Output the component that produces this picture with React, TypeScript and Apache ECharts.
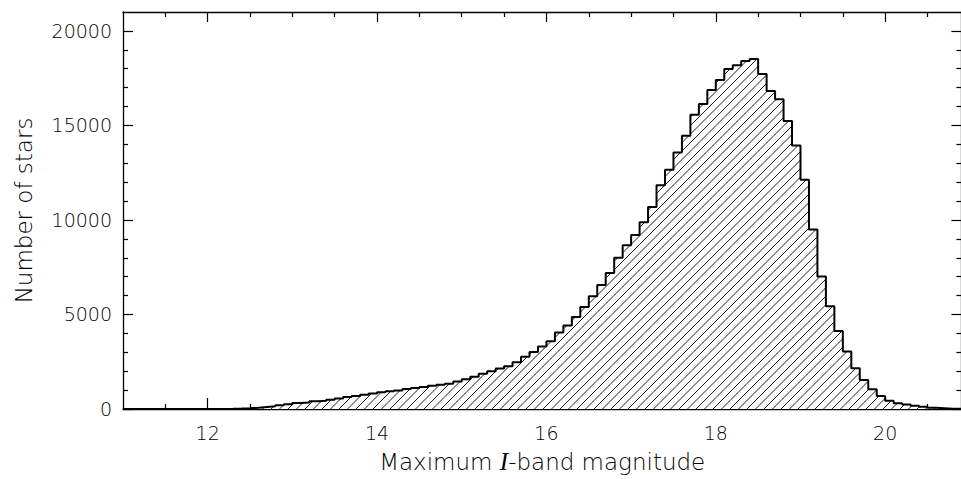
import React, { useEffect, useRef } from "react";
import * as echarts from "echarts";

// Histogram of maximum I-band magnitude, bins 0.1 mag wide starting at 11.0
const binStart = 11.0;
const binWidth = 0.1;
const counts = [
  // 11.0 - 11.9
  0, 0, 0, 0, 0, 0, 0, 0, 1, 1,
  // 12.0 - 12.9
  3, 6, 12, 22, 40, 70, 105, 140, 195, 250,
  // 13.0 - 13.9
  315, 350, 405, 440, 490, 560, 630, 690, 750, 820,
  // 14.0 - 14.9
  880, 935, 985, 1055, 1110, 1160, 1230, 1280, 1340, 1460,
  // 15.0 - 15.9
  1580, 1700, 1860, 2000, 2140, 2260, 2470, 2760, 3010, 3300,
  // 16.0 - 16.9
  3580, 4040, 4420, 4860, 5390, 5960, 6560, 7190, 8000, 8660,
  // 17.0 - 17.9
  9200, 9880, 10690, 11830, 12660, 13570, 14450, 15560, 16140, 16880,
  // 18.0 - 18.9
  17400, 17990, 18180, 18410, 18510, 17720, 16820, 16390, 15240, 13940,
  // 19.0 - 19.9
  12130, 9490, 7015, 5430, 4130, 3040, 2160, 1530, 1040, 690,
  // 20.0 - 20.8
  440, 310, 240, 170, 115, 60, 40, 15, 8,
];

const xMajorTicks = [12, 14, 16, 18, 20];
const xMinorTicks = [11.5, 12.5, 13, 13.5, 14.5, 15, 15.5, 16.5, 17, 17.5, 18.5, 19, 19.5, 20.5];
const yMajorTicks = [0, 5000, 10000, 15000, 20000];
const yMinorTicks = [
  1000, 2000, 3000, 4000, 6000, 7000, 8000, 9000, 11000, 12000, 13000, 14000,
  16000, 17000, 18000, 19000,
];
const X_MIN = 11;
const X_MAX = 20.9;
const Y_MIN = 0;
const Y_MAX = 21000;

const xTitle = "Maximum {i|I}-band magnitude";
const yTitle = "Number of stars";

function makeHatch(): HTMLCanvasElement {
  const c = document.createElement("canvas");
  const T = 17;
  c.width = T;
  c.height = T;
  const ctx = c.getContext("2d")!;
  ctx.fillStyle = "#ffffff";
  ctx.fillRect(0, 0, T, T);
  ctx.strokeStyle = "#000000";
  ctx.lineWidth = 0.9;
  for (let k = -3; k <= 3; k++) {
    ctx.beginPath();
    ctx.moveTo(k * 8.5, T);
    ctx.lineTo(k * 8.5 + T, 0);
    ctx.stroke();
  }
  return c;
}

export default function App() {
  const ref = useRef<HTMLDivElement>(null);

  useEffect(() => {
    if (!ref.current) return;
    const chart = echarts.init(ref.current, null, { renderer: "svg" });

    const data: [number, number][] = counts.map((v, i) => [
      +(binStart + i * binWidth).toFixed(2),
      v,
    ]);
    data.push([+(binStart + counts.length * binWidth).toFixed(2), counts[counts.length - 1]]);

    const font = "DejaVu Sans";
    const weight = 200;
    const axisLineStyle = { color: "#000", width: 1.3 };

    const baseX = {
      type: "value" as const,
      min: X_MIN,
      max: X_MAX,
      splitLine: { show: false },
    };
    const baseY = {
      type: "value" as const,
      min: Y_MIN,
      max: Y_MAX,
      splitLine: { show: false },
    };

    chart.setOption({
      animation: false,
      backgroundColor: "#ffffff",
      grid: { left: 123, top: 12, right: 0.6, bottom: 69, containLabel: false },
      xAxis: [
        {
          ...baseX,
          position: "bottom",
          axisLine: { show: true, onZero: false, lineStyle: axisLineStyle },
          axisTick: {
            show: true,
            inside: true,
            length: 11,
            customValues: xMajorTicks,
            lineStyle: { color: "#000", width: 1.2 },
          },
          axisLabel: {
            show: true,
            customValues: xMajorTicks,
            margin: 14,
            color: "#000",
            fontFamily: font,
            fontWeight: weight,
            fontSize: 19,
            formatter: (v: number) => String(v),
          },
          name: xTitle,
          nameLocation: "middle",
          nameGap: 40,
          nameTextStyle: {
            color: "#000",
            fontFamily: font,
            fontWeight: weight,
            fontSize: 23,
            rich: {
              i: {
                fontFamily: "Liberation Serif",
                fontStyle: "italic",
                fontWeight: "normal",
                fontSize: 25,
                color: "#000",
              },
            },
          },
        },
        {
          ...baseX,
          position: "bottom",
          axisLine: { show: false, onZero: false },
          axisTick: {
            show: true,
            inside: true,
            length: 5,
            customValues: xMinorTicks,
            lineStyle: { color: "#000", width: 1.2 },
          },
          axisLabel: { show: false },
        },
        {
          ...baseX,
          position: "top",
          axisLine: { show: true, onZero: false, lineStyle: axisLineStyle },
          axisTick: {
            show: true,
            inside: true,
            length: 10,
            customValues: xMajorTicks,
            lineStyle: { color: "#000", width: 1.2 },
          },
          axisLabel: { show: false },
        },
        {
          ...baseX,
          position: "top",
          axisLine: { show: false, onZero: false },
          axisTick: {
            show: true,
            inside: true,
            length: 5,
            customValues: xMinorTicks,
            lineStyle: { color: "#000", width: 1.2 },
          },
          axisLabel: { show: false },
        },
      ],
      yAxis: [
        {
          ...baseY,
          position: "left",
          axisLine: { show: true, onZero: false, lineStyle: axisLineStyle },
          axisTick: {
            show: true,
            inside: true,
            length: 10,
            customValues: yMajorTicks,
            lineStyle: { color: "#000", width: 1.2 },
          },
          axisLabel: {
            show: true,
            customValues: yMajorTicks,
            margin: 11,
            color: "#000",
            fontFamily: font,
            fontWeight: weight,
            fontSize: 19,
            formatter: (v: number) => String(v),
          },
          name: yTitle,
          nameLocation: "middle",
          nameGap: 88,
          nameTextStyle: { color: "#000", fontFamily: font, fontWeight: weight, fontSize: 23 },
        },
        {
          ...baseY,
          position: "left",
          axisLine: { show: false, onZero: false },
          axisTick: {
            show: true,
            inside: true,
            length: 5,
            customValues: yMinorTicks,
            lineStyle: { color: "#000", width: 1.2 },
          },
          axisLabel: { show: false },
        },
        {
          ...baseY,
          position: "right",
          axisLine: { show: true, onZero: false, lineStyle: axisLineStyle },
          axisTick: {
            show: true,
            inside: true,
            length: 10,
            customValues: yMajorTicks,
            lineStyle: { color: "#000", width: 1.2 },
          },
          axisLabel: { show: false },
        },
        {
          ...baseY,
          position: "right",
          axisLine: { show: false, onZero: false },
          axisTick: {
            show: true,
            inside: true,
            length: 5,
            customValues: yMinorTicks,
            lineStyle: { color: "#000", width: 1.2 },
          },
          axisLabel: { show: false },
        },
      ],
      series: [
        {
          type: "line",
          xAxisIndex: 0,
          yAxisIndex: 0,
          step: "end",
          data,
          symbol: "none",
          silent: true,
          lineStyle: { color: "#000", width: 2 },
          areaStyle: {
            color: { image: makeHatch(), repeat: "repeat" } as any,
            opacity: 1,
          },
          z: 3,
        },
      ],
    });

    return () => chart.dispose();
  }, []);

  return (
    <div
      style={{
        position: "fixed",
        left: 0,
        top: 0,
        width: 961,
        height: 479,
        overflow: "hidden",
        background: "#fff",
      }}
    >
      <div ref={ref} style={{ width: 962, height: 479 }} />
    </div>
  );
}
